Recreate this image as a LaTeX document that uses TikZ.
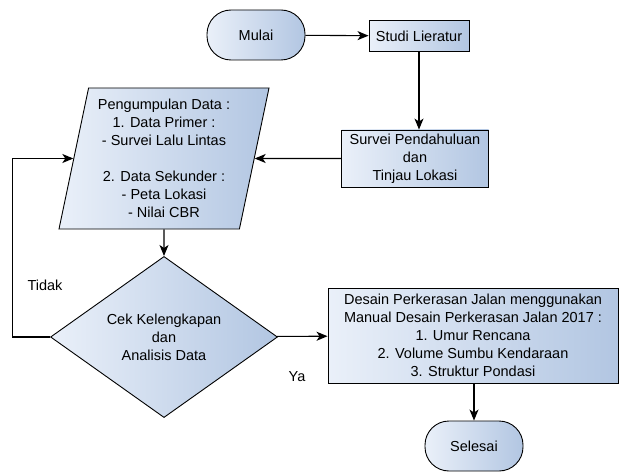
\documentclass[tikz,border=0pt]{standalone}
\usepackage{fontspec}
\setmainfont{Liberation Sans}
\usetikzlibrary{shapes.geometric,arrows.meta}
\definecolor{fillL}{RGB}{234,240,249}
\definecolor{fillR}{RGB}{178,198,226}
\begin{document}
\begin{tikzpicture}[
    x=1pt, y=1pt,
    font=\fontsize{14.5}{18}\selectfont,
    shade/.style={draw, line width=0.9pt, left color=fillL, right color=fillR},
    term/.style={shade, rounded corners=24pt, minimum width=98pt, minimum height=50pt},
    proc/.style={shade, align=center, inner sep=2pt},
    io/.style={shade, trapezium, trapezium left angle=76, trapezium right angle=104,
      trapezium stretches body, align=center, minimum width=210pt, minimum height=141pt, inner sep=0pt},
    cond/.style={shade, diamond, align=center, inner sep=0pt, minimum width=227pt, minimum height=118pt},
    arr/.style={line width=1.1pt, -{Stealth[length=11pt, width=9pt, inset=3pt]}}]
  \useasboundingbox (0,0) rectangle (621,472);
  % start
  \node[term] (mulai) at (256,437) {Mulai};
  % literature
  \node[proc, minimum width=100pt, minimum height=31pt] (studi) at (419,436) {Studi Lieratur};
  % preliminary survey
  \node[proc, minimum width=147pt, minimum height=57pt] (survei) at (415,313.5)
       {Survei Pendahuluan\\dan\\Tinjau Lokasi};
  % data collection
  \node[io] (data) at (164,313.5)
       {Pengumpulan Data :\\1. Data Primer :\\- Survei Lalu Lintas\\[18pt]2. Data Sekunder :\\
        - Peta Lokasi\\- Nilai CBR};
  % check
  \node[cond] (cek) at (164,135) {Cek Kelengkapan\\dan\\Analisis Data};
  % design
  \node[proc, minimum width=290pt, minimum height=95pt] (desain) at (473,136.5)
       {Desain Perkerasan Jalan menggunakan\\Manual Desain Perkerasan Jalan 2017 :\\
        1. Umur Rencana\\2. Volume Sumbu Kendaraan\\3. Struktur Pondasi};
  % end
  \node[term] (selesai) at (474,26) {Selesai};
  % connectors
  \draw[arr] (mulai) -- (studi);
  \draw[arr] (studi.south) -- (studi.south |- survei.north);
  \draw[arr] (survei) -- (data);
  \draw[arr] (data.south) -- (cek.north);
  \draw[arr] (cek.west) -- ++(-38,0) |- (data.west);
  \draw[arr] (cek) -- (desain);
  \draw[arr] (desain.south -| selesai.north) -- (selesai.north);
  % labels
  \node (tidak) at (45,187) {Tidak};
  \node (ya) at (297,95) {Ya};
\end{tikzpicture}
\end{document}
